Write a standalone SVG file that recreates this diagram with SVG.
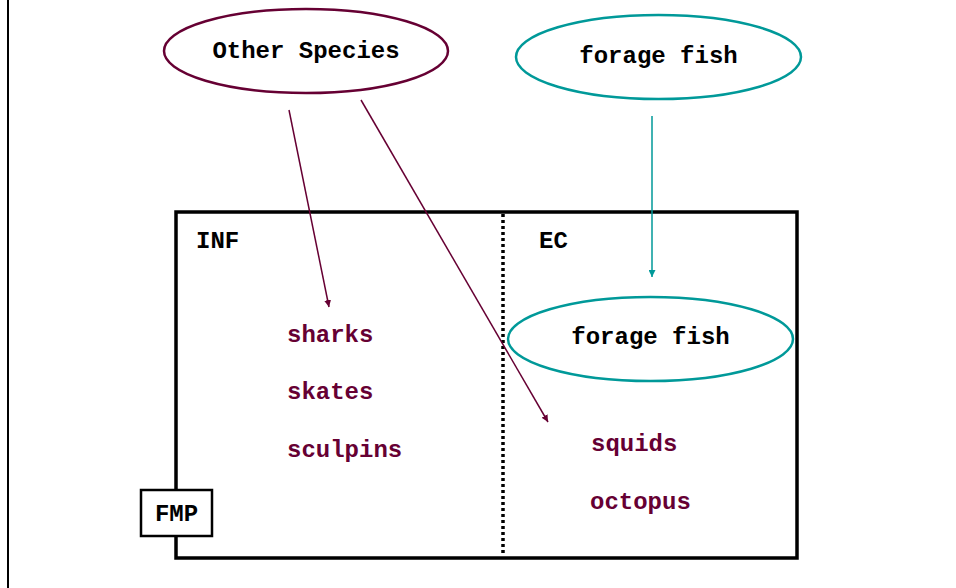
<svg xmlns="http://www.w3.org/2000/svg" width="956" height="588" viewBox="0 0 956 588">
<style>
text{font-family:"Liberation Mono","Courier New",monospace;font-weight:bold;font-size:24px}
.blk{fill:#000}
.mar{fill:#660033}
.ell-m{fill:none;stroke:#660033;stroke-width:2.5}
.ell-t{fill:none;stroke:#009999;stroke-width:2.5}
.conn-m{stroke:#660033;stroke-width:1.5;fill:none}
.conn-t{stroke:#009999;stroke-width:1.5;fill:none}
</style>
<defs>
<marker id="am" viewBox="0 0 10 10" refX="10" refY="5" markerWidth="7" markerHeight="7" markerUnits="userSpaceOnUse" orient="auto"><path d="M0,0 L10,5 L0,10 Z" fill="#660033"/></marker>
<marker id="at" viewBox="0 0 10 10" refX="10" refY="5" markerWidth="7" markerHeight="7" markerUnits="userSpaceOnUse" orient="auto"><path d="M0,0 L10,5 L0,10 Z" fill="#009999"/></marker>
</defs>
<rect width="956" height="588" fill="#fff"/>
<line x1="8" y1="0" x2="8" y2="588" stroke="#000" stroke-width="2"/>
<g id="box">
<rect x="176" y="212" width="621" height="346" fill="none" stroke="#000" stroke-width="3.5"/>
<line x1="503" y1="214" x2="503" y2="556" stroke="#000" stroke-width="3.5" stroke-dasharray="3,3"/>
<text x="196" y="248" class="blk">INF</text>
<text x="539" y="248" class="blk">EC</text>
</g>
<g id="other-species">
<ellipse cx="306" cy="51" rx="142" ry="42" class="ell-m"/>
<text x="306" y="58" text-anchor="middle" class="blk">Other Species</text>
</g>
<g id="forage-fish-top">
<ellipse cx="658.5" cy="57" rx="142.5" ry="42" class="ell-t"/>
<text x="658.5" y="63" text-anchor="middle" class="blk">forage fish</text>
</g>
<g id="forage-fish-ec">
<ellipse cx="650.5" cy="339" rx="142.5" ry="42" class="ell-t"/>
<text x="650.5" y="344" text-anchor="middle" class="blk">forage fish</text>
</g>
<g id="sharks"><text x="287" y="342" class="mar">sharks</text></g>
<g id="skates"><text x="287" y="399" class="mar">skates</text></g>
<g id="sculpins"><text x="287" y="457" class="mar">sculpins</text></g>
<g id="squids"><text x="591" y="451" class="mar">squids</text></g>
<g id="octopus"><text x="590" y="509" class="mar">octopus</text></g>
<g id="fmp">
<rect x="141" y="490" width="71" height="46" fill="#fff" stroke="#000" stroke-width="2.5"/>
<text x="176.5" y="521" text-anchor="middle" class="blk">FMP</text>
</g>
<g id="connectors">
<line x1="289" y1="110" x2="329" y2="307" class="conn-m" marker-end="url(#am)"/>
<line x1="361" y1="100" x2="548" y2="422" class="conn-m" marker-end="url(#am)"/>
<line x1="652" y1="116" x2="652" y2="277" class="conn-t" marker-end="url(#at)"/>
</g>
</svg>
